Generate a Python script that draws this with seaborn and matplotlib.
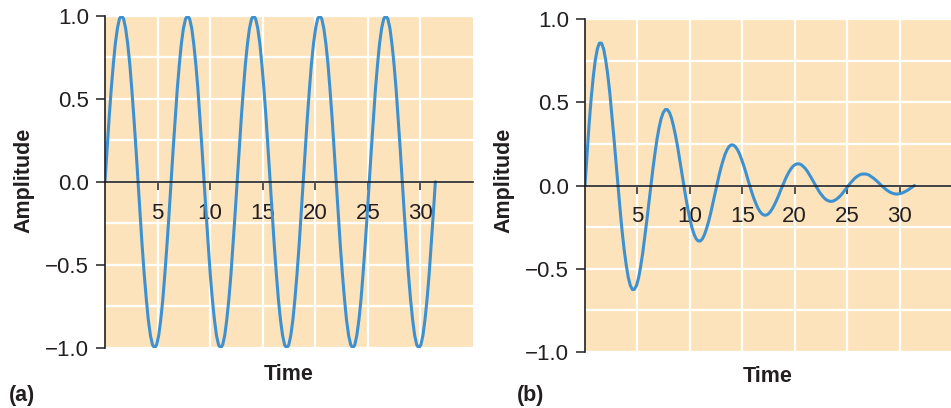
import matplotlib
matplotlib.use("Agg")
import matplotlib.pyplot as plt
import seaborn as sns

# ------------------ DATOS ------------------ #

time = [
    0.00, 0.20, 0.39, 0.59, 0.79, 0.98, 1.18, 1.37, 1.57, 1.77, 1.96, 2.16, 2.36, 2.55, 2.75, 2.95,
    3.14, 3.34, 3.53, 3.73, 3.93, 4.12, 4.32, 4.52, 4.71, 4.91, 5.11, 5.30, 5.50, 5.69, 5.89, 6.09,
    6.28, 6.48, 6.68, 6.87, 7.07, 7.26, 7.46, 7.66, 7.85, 8.05, 8.25, 8.44, 8.64, 8.84, 9.03, 9.23,
    9.42, 9.62, 9.82, 10.01, 10.21, 10.41, 10.60, 10.80, 11.00, 11.19, 11.39, 11.58, 11.78, 11.98, 12.17, 12.37,
    12.57, 12.76, 12.96, 13.16, 13.35, 13.55, 13.74, 13.94, 14.14, 14.33, 14.53, 14.73, 14.92, 15.12, 15.32, 15.51,
    15.71, 15.90, 16.10, 16.30, 16.49, 16.69, 16.89, 17.08, 17.28, 17.48, 17.67, 17.87, 18.06, 18.26, 18.46, 18.65,
    18.85, 19.05, 19.24, 19.44, 19.63, 19.83, 20.03, 20.22, 20.42, 20.62, 20.81, 21.01, 21.21, 21.40, 21.60, 21.79,
    21.99, 22.19, 22.38, 22.58, 22.78, 22.97, 23.17, 23.37, 23.56, 23.76, 23.95, 24.15, 24.35, 24.54, 24.74, 24.94,
    25.13, 25.33, 25.53, 25.72, 25.92, 26.11, 26.31, 26.51, 26.70, 26.90, 27.10, 27.29, 27.49, 27.69, 27.88, 28.08,
    28.27, 28.47, 28.67, 28.86, 29.06, 29.26, 29.45, 29.65, 29.85, 30.04, 30.24, 30.43, 30.63, 30.83, 31.02, 31.22,
    31.42,
]

amp_sine = [
    0.0, 0.195, 0.383, 0.556, 0.707, 0.831, 0.924, 0.981, 1.0, 0.981, 0.924, 0.831, 0.707, 0.556, 0.383, 0.195,
    0.0, -0.195, -0.383, -0.556, -0.707, -0.831, -0.924, -0.981, -1.0, -0.981, -0.924, -0.831, -0.707, -0.556, -0.383, -0.195,
    0.0, 0.195, 0.383, 0.556, 0.707, 0.831, 0.924, 0.981, 1.0, 0.981, 0.924, 0.831, 0.707, 0.556, 0.383, 0.195,
    0.0, -0.195, -0.383, -0.556, -0.707, -0.831, -0.924, -0.981, -1.0, -0.981, -0.924, -0.831, -0.707, -0.556, -0.383, -0.195,
    0.0, 0.195, 0.383, 0.556, 0.707, 0.831, 0.924, 0.981, 1.0, 0.981, 0.924, 0.831, 0.707, 0.556, 0.383, 0.195,
    0.0, -0.195, -0.383, -0.556, -0.707, -0.831, -0.924, -0.981, -1.0, -0.981, -0.924, -0.831, -0.707, -0.556, -0.383, -0.195,
    0.0, 0.195, 0.383, 0.556, 0.707, 0.831, 0.924, 0.981, 1.0, 0.981, 0.924, 0.831, 0.707, 0.556, 0.383, 0.195,
    0.0, -0.195, -0.383, -0.556, -0.707, -0.831, -0.924, -0.981, -1.0, -0.981, -0.924, -0.831, -0.707, -0.556, -0.383, -0.195,
    0.0, 0.195, 0.383, 0.556, 0.707, 0.831, 0.924, 0.981, 1.0, 0.981, 0.924, 0.831, 0.707, 0.556, 0.383, 0.195,
    0.0, -0.195, -0.383, -0.556, -0.707, -0.831, -0.924, -0.981, -1.0, -0.981, -0.924, -0.831, -0.707, -0.556, -0.383, -0.195,
    0.0,
]

amp_damped = [
    0.0, 0.191, 0.368, 0.524, 0.654, 0.753, 0.821, 0.855, 0.855, 0.822, 0.759, 0.670, 0.559, 0.431, 0.291, 0.145,
    0.0, -0.140, -0.269, -0.383, -0.477, -0.550, -0.600, -0.625, -0.624, -0.601, -0.555, -0.489, -0.408, -0.315, -0.213, -0.106,
    0.0, 0.102, 0.197, 0.280, 0.349, 0.402, 0.438, 0.456, 0.456, 0.439, 0.405, 0.357, 0.298, 0.230, 0.155, 0.078,
    0.0, -0.075, -0.144, -0.204, -0.255, -0.294, -0.320, -0.333, -0.333, -0.321, -0.296, -0.261, -0.218, -0.168, -0.113, -0.057,
    0.0, 0.054, 0.105, 0.149, 0.186, 0.215, 0.234, 0.244, 0.243, 0.234, 0.216, 0.191, 0.159, 0.123, 0.083, 0.041,
    0.0, -0.040, -0.077, -0.109, -0.136, -0.157, -0.171, -0.178, -0.178, -0.171, -0.158, -0.139, -0.116, -0.090, -0.061, -0.030,
    0.0, 0.029, 0.056, 0.080, 0.099, 0.115, 0.125, 0.130, 0.130, 0.125, 0.115, 0.102, 0.085, 0.065, 0.044, 0.022,
    0.0, -0.021, -0.041, -0.058, -0.073, -0.084, -0.091, -0.095, -0.095, -0.091, -0.084, -0.074, -0.062, -0.048, -0.032, -0.016,
    0.0, 0.016, 0.030, 0.043, 0.053, 0.061, 0.067, 0.069, 0.069, 0.067, 0.062, 0.054, 0.045, 0.035, 0.024, 0.012,
    0.0, -0.011, -0.022, -0.031, -0.039, -0.045, -0.049, -0.051, -0.051, -0.049, -0.045, -0.040, -0.033, -0.026, -0.017, -0.009,
    0.0,
]

x_ticks = [5, 10, 15, 20, 25, 30]
y_ticks = [-1.0, -0.5, 0.0, 0.5, 1.0]
y_tick_labels = ["\u22121.0", "\u22120.5", "0.0", "0.5", "1.0"]
y_grid_minor = [-0.75, -0.25, 0.25, 0.75]
panel_labels = ["(a)", "(b)"]

# ------------------ ESTILO ------------------ #

sns.set_style("white")
plt.rcParams["font.family"] = ["Liberation Sans", "DejaVu Sans"]

BG = "#FDE3BB"
LINE = "#3D91D1"
INK = "#231F20"
W, H = 951, 408

fig = plt.figure(figsize=(W / 100, H / 100), dpi=100)

# cajas de los ejes en píxeles: izquierda, arriba, derecha, abajo
boxes = [(105, 15.7, 473, 348), (585, 19, 952, 352)]
series = [amp_sine, amp_damped]
ylab_x = [24, 504]
time_pos = [(289, 374), (768, 377)]
panel_pos = [(9, 395), (517, 395)]

for i in range(2):
    l, t, r, b = boxes[i]
    ax = fig.add_axes([l / W, 1 - b / H, (r - l) / W, (b - t) / H])
    sns.lineplot(x=time, y=series[i], ax=ax, color=LINE, linewidth=2.2)
    ax.set_xlim(0, 35)
    ax.set_ylim(-1, 1)
    ax.set_facecolor(BG)
    ax.set_xlabel("")
    ax.set_ylabel("")

    for s in ["top", "right"]:
        ax.spines[s].set_visible(False)
    ax.spines["bottom"].set_position(("data", 0))
    for s in ["left", "bottom"]:
        ax.spines[s].set_color(INK)
        ax.spines[s].set_linewidth(1.2)

    ax.set_xticks(x_ticks)
    ax.set_xticklabels([str(v) for v in x_ticks])
    ax.set_yticks(y_ticks)
    ax.set_yticklabels(y_tick_labels)
    ax.set_yticks(y_grid_minor, minor=True)
    ax.tick_params(axis="y", which="major", left=True, direction="out", length=6.5, width=1.1,
                   pad=5, labelsize=16, color=INK, labelcolor=INK)
    ax.tick_params(axis="y", which="minor", left=False, length=0)
    ax.tick_params(axis="x", bottom=True, direction="out", length=6, width=1.1,
                   pad=9, labelsize=16, color=INK, labelcolor=INK)

    ax.grid(True, which="both", color="white", linewidth=1.6)
    ax.set_axisbelow(True)

    fig.text(ylab_x[i] / W, 1 - 180 / H, "Amplitude", rotation=90, ha="center", va="center",
             fontsize=15.5, fontweight="bold", color=INK)
    fig.text(time_pos[i][0] / W, 1 - time_pos[i][1] / H, "Time", ha="center", va="center",
             fontsize=15.5, fontweight="bold", color=INK)
    fig.text(panel_pos[i][0] / W, 1 - panel_pos[i][1] / H, panel_labels[i], ha="left", va="center",
             fontsize=15.5, fontweight="bold", color=INK)

fig.savefig("out.png", dpi=100)
plt.close(fig)
